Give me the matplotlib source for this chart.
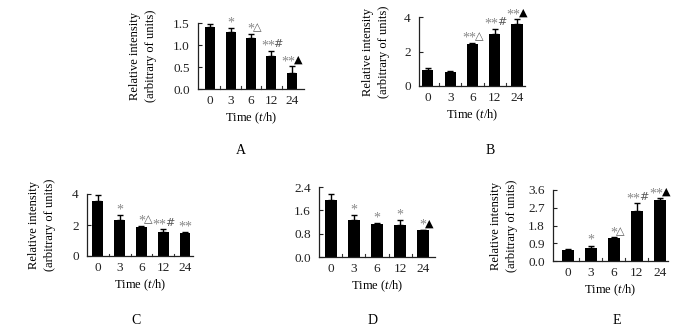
import numpy as np
import matplotlib.pyplot as plt

plt.rcParams['font.family'] = ['Liberation Serif', 'DejaVu Sans']
plt.rcParams['mathtext.fontset'] = 'custom'
plt.rcParams['mathtext.it'] = 'Liberation Serif:italic'
plt.rcParams['mathtext.rm'] = 'Liberation Serif'

times = ['0', '3', '6', '12', '24']

# panel values (mean, upper error)
a_mean = [1.42, 1.30, 1.17, 0.74, 0.36]
a_err = [0.06, 0.08, 0.09, 0.13, 0.16]
a_stars = ['', '*', '*', '**', '**']
a_sym = ['', '', '△', '#', '▲']

b_mean = [0.92, 0.79, 2.44, 3.04, 3.57]
b_err = [0.13, 0.08, 0.08, 0.28, 0.29]
b_stars = ['', '', '**', '**', '**']
b_sym = ['', '', '△', '#', '▲']

c_mean = [3.52, 2.32, 1.89, 1.57, 1.50]
c_err = [0.43, 0.32, 0.07, 0.15, 0.06]
c_stars = ['', '*', '*', '**', '**']
c_sym = ['', '', '△', '#', '']

d_mean = [1.96, 1.26, 1.14, 1.11, 0.91]
d_err = [0.21, 0.17, 0.03, 0.16, 0.02]
d_stars = ['', '*', '*', '*', '*']
d_sym = ['', '', '', '', '▲']

e_mean = [0.54, 0.66, 1.15, 2.55, 3.09]
e_err = [0.08, 0.12, 0.05, 0.37, 0.08]
e_stars = ['', '*', '*', '**', '**']
e_sym = ['', '', '△', '#', '▲']

W, H = 700, 329
fig = plt.figure(figsize=(7, 3.29), dpi=100)


def px_axes(left, right, top, bottom):
    return fig.add_axes([left / W, 1 - bottom / H, (right - left) / W, (bottom - top) / H])


def panel(box, xlim, mean, err, stars, sym, yticks, ylabels, letter, letter_xy, ylab_x):
    ax = px_axes(*box)
    x = np.arange(len(times))
    ax.bar(x, mean, width=0.5, color='black', zorder=2)
    ax.errorbar(x, mean, yerr=[np.zeros(len(err)), err], fmt='none',
                ecolor='black', elinewidth=1, capsize=2.5, capthick=1, zorder=3)
    ax.set_xlim(*xlim)
    ax.set_ylim(yticks[0], yticks[-1])
    ax.set_yticks(yticks)
    ax.set_yticklabels(ylabels)
    ax.set_xticks(x)
    ax.set_xticklabels(times)
    ax.tick_params(axis='x', length=0, pad=4, labelsize=9.5, colors='#222')
    ax.tick_params(axis='y', direction='in', length=3, width=0.8, pad=6,
                   labelsize=9.5, colors='#222')
    # category boundary ticks on the x axis
    for b in np.arange(0.5, len(times) - 1, 1.0):
        ax.plot([b, b], [0, 0.04 * yticks[-1]], color='#333', lw=0.8,
                clip_on=False, zorder=1)
    for s in ['top', 'right']:
        ax.spines[s].set_visible(False)
    for s in ['left', 'bottom']:
        ax.spines[s].set_linewidth(0.9)
        ax.spines[s].set_color('#222')
    ax.set_xlabel('Time ($\\mathit{t}$/h)', fontsize=9, labelpad=3)
    for i in range(len(times)):
        yy = mean[i] + err[i]
        if stars[i] and sym[i]:
            ax.annotate(stars[i], (x[i], yy), xytext=(2.5, -1.5), textcoords='offset points',
                        ha='right', va='bottom', fontsize=10, color='#888')
            ax.annotate(sym[i], (x[i], yy), xytext=(1.5, 1), textcoords='offset points',
                        ha='left', va='bottom', fontsize=8,
                        color='black' if sym[i] == '▲' else '#555',
                        family=['DejaVu Sans'])
        elif stars[i]:
            ax.annotate(stars[i], (x[i], yy), xytext=(0, -1), textcoords='offset points',
                        ha='center', va='bottom', fontsize=10, color='#888')
    fig.text(letter_xy[0] / W, 1 - letter_xy[1] / H, letter, fontsize=10,
             ha='center', va='center')
    if ylab_x is not None:
        yc = (box[2] + box[3]) / 2
        fig.text(ylab_x / W, 1 - yc / H, 'Relative intensity\n(arbitrary of units)',
                 rotation=90, ha='center', va='center', fontsize=9,
                 linespacing=1.4)
    return ax


panel((198, 304, 23, 89), (-0.6, 4.6), a_mean, a_err, a_stars, a_sym,
      [0, 0.5, 1.0, 1.5], ['0.0', '0.5', '1.0', '1.5'], 'A', (241, 150), 143)
panel((419, 525, 17, 86), (-0.4, 4.36), b_mean, b_err, b_stars, b_sym,
      [0, 2, 4], ['0', '2', '4'], 'B', (490, 150), 376)
panel((87, 193, 194, 256), (-0.5, 4.37), c_mean, c_err, c_stars, c_sym,
      [0, 2, 4], ['0', '2', '4'], 'C', (136, 320), 42)
panel((319, 435, 187, 257), (-0.52, 4.52), d_mean, d_err, d_stars, d_sym,
      [0, 0.8, 1.6, 2.4], ['0.0', '0.8', '1.6', '2.4'], 'D', (373, 320), None)
panel((553, 668, 190, 261), (-0.65, 4.35), e_mean, e_err, e_stars, e_sym,
      [0, 0.9, 1.8, 2.7, 3.6], ['0.0', '0.9', '1.8', '2.7', '3.6'], 'E', (617, 320), 504)

fig.savefig('out.png', dpi=100, facecolor='white')
